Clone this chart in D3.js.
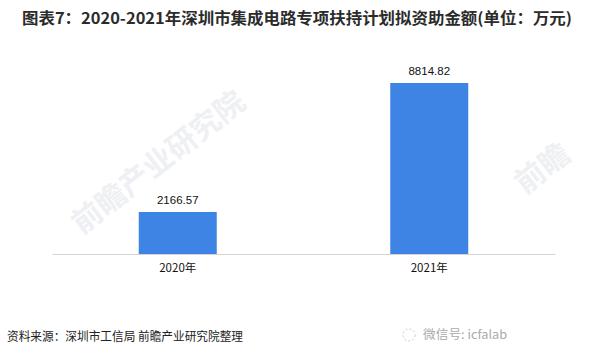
<!DOCTYPE html>
<html><head><meta charset="utf-8">
<script src="https://cdn.jsdelivr.net/npm/d3@7/dist/d3.min.js"></script>
<style>body{margin:0;background:#fff;}svg{display:block;}</style>
</head><body>
<svg id="c" width="597" height="357"></svg>
<script>
const categories = ["2020年", "2021年"];
const values = [2166.57, 8814.82];
const valueLabels = ["2166.57", "8814.82"];

const svg = d3.select("#c");
const W = 597, H = 357;
svg.append("rect").attr("width", W).attr("height", H).attr("fill", "#fff");

// watermarks
const wm = svg.append("g").attr("fill", "#eef0f3").attr("font-family", "Noto Sans CJK SC").attr("font-weight", "bold");
wm.append("text").attr("transform", "translate(82,235) rotate(-38)").attr("font-size", 30).text("前瞻产业研究院");
wm.append("text").attr("transform", "translate(525,195) rotate(-38)").attr("font-size", 30).text("前瞻");

const x = d3.scaleBand().domain(categories).range([52, 555]).padding(0);
const y = d3.scaleLinear().domain([0, 8814.82]).range([254, 83]);
const bw = 78;

svg.selectAll("rect.bar").data(values).enter().append("rect")
  .attr("class", "bar")
  .attr("x", (d, i) => x(categories[i]) + x.bandwidth() / 2 - bw / 2)
  .attr("y", d => y(d))
  .attr("width", bw)
  .attr("height", d => y(0) - y(d))
  .attr("fill", "#3e84e4");

svg.selectAll("text.vl").data(values).enter().append("text")
  .attr("class", "vl")
  .attr("x", (d, i) => x(categories[i]) + x.bandwidth() / 2)
  .attr("y", d => y(d) - 8)
  .attr("text-anchor", "middle")
  .attr("font-family", "Liberation Sans, Arial")
  .attr("font-size", 11.5)
  .attr("fill", "#111")
  .text((d, i) => valueLabels[i]);

const ax = svg.append("g").attr("transform", "translate(0,254)")
  .call(d3.axisBottom(x).tickSize(0).tickPadding(10));
ax.select(".domain").attr("stroke", "#d4d4d4").attr("stroke-width", 1.2);
ax.selectAll("text").attr("font-family", "Noto Sans CJK SC").attr("font-size", 11.5).attr("fill", "#111");

svg.append("text").attr("x", 297).attr("y", 24).attr("text-anchor", "middle")
  .attr("font-family", "Noto Sans CJK SC").attr("font-weight", "bold").attr("font-size", 15.5)
  .attr("textLength", 550).attr("lengthAdjust", "spacingAndGlyphs")
  .attr("fill", "#2b2b2b").text("图表7：2020-2021年深圳市集成电路专项扶持计划拟资助金额(单位：万元)");

svg.append("text").attr("x", 7).attr("y", 341)
  .attr("font-family", "Noto Sans CJK SC").attr("font-size", 12)
  .attr("textLength", 236).attr("lengthAdjust", "spacingAndGlyphs")
  .attr("fill", "#222").text("资料来源：深圳市工信局 前瞻产业研究院整理");

svg.append("text").attr("x", 423).attr("y", 339)
  .attr("font-family", "Noto Sans CJK SC").attr("font-size", 12)
  .attr("textLength", 84).attr("lengthAdjust", "spacingAndGlyphs")
  .attr("fill", "#aaa").text("微信号: icfalab");
svg.append("circle").attr("cx", 409).attr("cy", 335).attr("r", 6).attr("fill", "none").attr("stroke", "#c8c8c8").attr("stroke-dasharray", "2,2");
</script>
</body></html>
